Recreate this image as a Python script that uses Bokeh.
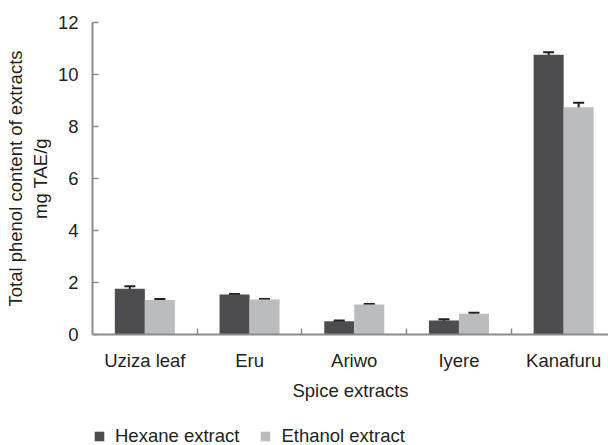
from bokeh.plotting import figure
from bokeh.layouts import column
from bokeh.models import (ColumnDataSource, Range1d, FixedTicker, Whisker, TeeHead,
                          Legend, LegendItem)
from bokeh.embed import file_html
from bokeh.resources import INLINE

# ---- data ----
categories = ["Uziza leaf", "Eru", "Ariwo", "Iyere", "Kanafuru"]
hexane = [1.76, 1.54, 0.51, 0.54, 10.76]
hexane_err = [0.10, 0.02, 0.03, 0.05, 0.10]
ethanol = [1.33, 1.35, 1.15, 0.80, 8.74]
ethanol_err = [0.04, 0.02, 0.02, 0.04, 0.17]
y_ticks = [0, 2, 4, 6, 8, 10, 12]
series_names = ["Hexane extract", "Ethanol extract"]

FONT = "Liberation Sans"
FS = "18.5px"
TXT = "#231f20"
AX = "#8a8a8a"
C_HEX = "#4d4d4f"
C_ETH = "#bbbcbe"

bw = 0.2866
centers = [i + 0.5 for i in range(len(categories))]
src = ColumnDataSource(dict(
    xh=[c - bw / 2 for c in centers],
    xe=[c + bw / 2 for c in centers],
    hex=hexane, eth=ethanol,
    hlo=[v - e for v, e in zip(hexane, hexane_err)],
    hhi=[v + e for v, e in zip(hexane, hexane_err)],
    elo=[v - e for v, e in zip(ethanol, ethanol_err)],
    ehi=[v + e for v, e in zip(ethanol, ethanol_err)],
))

p = figure(width=608, height=410, output_backend="svg", toolbar_location=None,
           x_range=Range1d(0, 516 / 104.7), y_range=Range1d(0, 12),
           min_border_left=92, min_border_right=0, min_border_top=22, min_border_bottom=76)
p.outline_line_color = None
p.xgrid.visible = False
p.ygrid.visible = False

p.vbar(x="xh", top="hex", width=bw, source=src, fill_color=C_HEX, line_color=None)
p.vbar(x="xe", top="eth", width=bw, source=src, fill_color=C_ETH, line_color=None)

for lo, hi, xx in (("hlo", "hhi", "xh"), ("elo", "ehi", "xe")):
    w = Whisker(source=src, base=xx, lower=lo, upper=hi, line_color=TXT, line_width=2,
                upper_head=TeeHead(size=11, line_color=TXT, line_width=2),
                lower_head=TeeHead(size=11, line_color=TXT, line_width=2))
    p.add_layout(w)

# x axis
xa = p.xaxis[0]
xa.ticker = FixedTicker(ticks=centers, minor_ticks=[i for i in range(1, len(categories))])
xa.major_label_overrides = {c: n for c, n in zip(centers, categories)}
xa.major_tick_line_color = None
xa.minor_tick_in = 6
xa.minor_tick_out = 0
xa.minor_tick_line_color = AX
xa.minor_tick_line_width = 1.5
xa.axis_line_color = AX
xa.axis_line_width = 2
xa.major_label_text_font = FONT
xa.major_label_text_font_size = FS
xa.major_label_text_color = TXT
xa.major_label_standoff = 9
xa.axis_label = "Spice extracts"
xa.axis_label_text_font = FONT
xa.axis_label_text_font_size = FS
xa.axis_label_text_font_style = "normal"
xa.axis_label_text_color = TXT
xa.axis_label_standoff = 6

# y axis
ya = p.yaxis[0]
ya.ticker = FixedTicker(ticks=y_ticks)
ya.minor_tick_line_color = None
ya.major_tick_in = 6
ya.major_tick_out = 0
ya.major_tick_line_color = AX
ya.major_tick_line_width = 1.5
ya.axis_line_color = AX
ya.axis_line_width = 2
ya.major_label_text_font = FONT
ya.major_label_text_font_size = FS
ya.major_label_text_color = TXT
ya.major_label_standoff = 14
ya.axis_label = "Total phenol content of extracts\nmg TAE/g"
ya.axis_label_text_font = FONT
ya.axis_label_text_font_size = FS
ya.axis_label_text_font_style = "normal"
ya.axis_label_text_color = TXT
ya.axis_label_text_line_height = 1.2
ya.axis_label_standoff = 4

# legend strip below the chart
q = figure(width=608, height=35, output_backend="svg", toolbar_location=None,
           x_range=Range1d(0, 1), y_range=Range1d(0, 1),
           min_border=0, min_border_left=0, min_border_right=0,
           min_border_top=0, min_border_bottom=0)
q.axis.visible = False
q.grid.visible = False
q.outline_line_color = None
# swatch renderers lie outside the strip's visible range; only their legend glyphs show
lr1 = q.vbar(x=[5], top=[1], width=0.1, fill_color=C_HEX, line_color=None)
lr2 = q.vbar(x=[5], top=[1], width=0.1, fill_color=C_ETH, line_color=None)
legend = Legend(items=[LegendItem(label=series_names[0], renderers=[lr1]),
                       LegendItem(label=series_names[1], renderers=[lr2])],
                orientation="horizontal", location=(1, -2),
                glyph_width=12, glyph_height=12, label_standoff=10, spacing=20,
                padding=0, margin=0, border_line_color=None, background_fill_alpha=0,
                label_text_font=FONT, label_text_font_size=FS, label_text_color=TXT,
                label_height=20)
q.add_layout(legend, "center")

open("out.html", "w").write(file_html(column(p, q, spacing=0), INLINE))
